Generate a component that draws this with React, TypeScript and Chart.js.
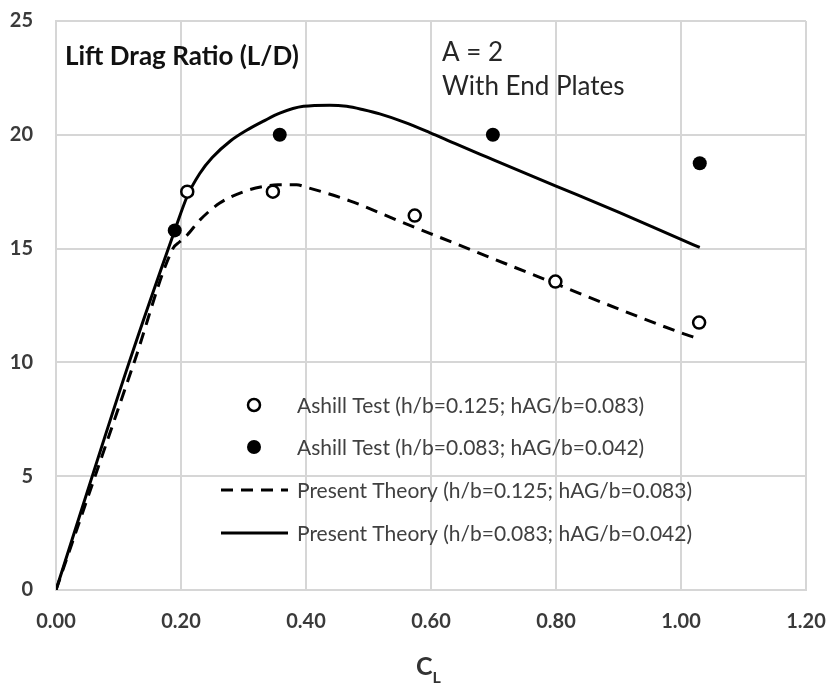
import { useEffect, useRef } from 'react';
import { Chart, registerables } from 'chart.js';

Chart.register(...registerables);

// Ashill wind-tunnel test points (C_L, L/D)
const testOpenCL = [0.21, 0.347, 0.574, 0.799, 1.029];
const testOpenLD = [17.5, 17.5, 16.45, 13.55, 11.75];
const testFilledCL = [0.19, 0.358, 0.699, 1.03];
const testFilledLD = [15.8, 20.0, 20.0, 18.75];

// Present theory curves
const theoryDashCL = [0, 0.125, 0.187, 0.198, 0.21, 0.23, 0.262, 0.3, 0.33, 0.355, 0.385, 0.4, 0.47, 0.55, 0.6, 0.7, 0.8, 0.9, 1.0, 1.027];
const theoryDashLD = [0, 10, 15, 15.3, 15.6, 16.25, 17.0, 17.5, 17.72, 17.8, 17.8, 17.7, 17.1, 16.2, 15.65, 14.55, 13.45, 12.35, 11.3, 11.05];
const theorySolidCL = [0, 0.117, 0.19, 0.21, 0.23, 0.25, 0.28, 0.305, 0.332, 0.358, 0.396, 0.438, 0.465, 0.492, 0.518, 0.558, 0.598, 0.638, 0.678, 0.7, 0.8, 0.9, 1.0, 1.03];
const theorySolidLD = [0, 10, 15.8, 17.3, 18.3, 19.0, 19.75, 20.2, 20.6, 20.95, 21.25, 21.3, 21.25, 21.1, 20.92, 20.55, 20.1, 19.62, 19.15, 18.9, 17.75, 16.6, 15.4, 15.05];

const seriesLabels = [
  'Ashill Test (h/b=0.125; hAG/b=0.083)',
  'Ashill Test (h/b=0.083; hAG/b=0.042)',
  'Present Theory (h/b=0.125; hAG/b=0.083)',
  'Present Theory (h/b=0.083; hAG/b=0.042)',
];

const xTickValues = [0, 0.2, 0.4, 0.6, 0.8, 1.0, 1.2];
const xTickLabels = ['0.00', '0.20', '0.40', '0.60', '0.80', '1.00', '1.20'];
const yTickValues = [0, 5, 10, 15, 20, 25];
const yTickLabels = ['0', '5', '10', '15', '20', '25'];

const chartTitle = 'Lift Drag Ratio (L/D)';
const noteLines = ['A = 2', 'With End Plates'];
const xTitleMain = 'C';
const xTitleSub = 'L';

const FONT = 'Lato, "Open Sans", sans-serif';
const GRID = '#d6d6d6';

const pts = (xs: number[], ys: number[]) => xs.map((x, i) => ({ x, y: ys[i] }));

const labelFor = (values: number[], labels: string[], v: number) => {
  const i = values.findIndex((t) => Math.abs(t - v) < 1e-6);
  return i >= 0 ? labels[i] : '';
};

// Tick labels may hang past the plot box; keep the box where the layout padding puts it.
const noOverflow = (scale: any) => {
  scale.paddingTop = 0;
  scale.paddingBottom = 0;
  scale.paddingLeft = 0;
  scale.paddingRight = 0;
};

// Draws the in-plot legend, the heading notes and the C_L axis title.
const overlayPlugin = {
  id: 'overlay',
  afterDraw(chart: any) {
    const ctx = chart.ctx as CanvasRenderingContext2D;
    ctx.save();

    // heading notes
    ctx.textBaseline = 'alphabetic';
    ctx.textAlign = 'left';
    ctx.fillStyle = '#111';
    ctx.font = `bold 26px ${FONT}`;
    ctx.fillText(chartTitle, 65, 65);

    ctx.fillStyle = '#262626';
    ctx.font = `26px ${FONT}`;
    ctx.fillText(noteLines[0], 442, 61);
    ctx.fillText(noteLines[1], 442, 95);

    // legend
    const rows = [405, 447, 490, 533];
    const markX = 254;
    const lineX0 = 221;
    const lineX1 = 288;
    const textX = 297;
    ctx.font = `21px ${FONT}`;
    ctx.textBaseline = 'middle';
    chart.data.datasets.forEach((ds: any, i: number) => {
      const y = rows[i];
      ctx.strokeStyle = '#000';
      ctx.fillStyle = '#000';
      if (ds.showLine) {
        ctx.lineWidth = 3;
        ctx.setLineDash(ds.borderDash || []);
        ctx.beginPath();
        ctx.moveTo(lineX0, y);
        ctx.lineTo(lineX1, y);
        ctx.stroke();
        ctx.setLineDash([]);
      } else {
        ctx.beginPath();
        ctx.arc(markX, y, ds.pointRadius, 0, Math.PI * 2);
        ctx.fillStyle = ds.pointBackgroundColor;
        ctx.fill();
        if (ds.pointBorderWidth > 0) {
          ctx.lineWidth = ds.pointBorderWidth;
          ctx.strokeStyle = ds.pointBorderColor;
          ctx.stroke();
        }
      }
      ctx.fillStyle = '#404040';
      ctx.fillText(ds.label, textX, y + 1);
    });

    // x axis title with subscript
    ctx.fillStyle = '#333';
    ctx.textBaseline = 'alphabetic';
    ctx.font = `bold 25px ${FONT}`;
    const wMain = ctx.measureText(xTitleMain).width;
    ctx.fillText(xTitleMain, 416, 675);
    ctx.font = `bold 16px ${FONT}`;
    ctx.fillText(xTitleSub, 416 + wMain, 683);

    ctx.restore();
  },
};

export default function App() {
  const canvasRef = useRef<HTMLCanvasElement | null>(null);

  useEffect(() => {
    const canvas = canvasRef.current;
    if (!canvas) return;
    const chart = new Chart(canvas, {
      type: 'scatter',
      data: {
        datasets: [
          {
            label: seriesLabels[0],
            data: pts(testOpenCL, testOpenLD),
            showLine: false,
            pointRadius: 6,
            pointBorderWidth: 2.5,
            pointBackgroundColor: '#ffffff',
            pointBorderColor: '#000000',
          },
          {
            label: seriesLabels[1],
            data: pts(testFilledCL, testFilledLD),
            showLine: false,
            pointRadius: 7,
            pointBorderWidth: 0,
            pointBackgroundColor: '#000000',
            pointBorderColor: '#000000',
          },
          {
            label: seriesLabels[2],
            data: pts(theoryDashCL, theoryDashLD),
            showLine: true,
            borderColor: '#000000',
            borderWidth: 3,
            borderDash: [12, 8],
            pointRadius: 0,
            cubicInterpolationMode: 'monotone',
          },
          {
            label: seriesLabels[3],
            data: pts(theorySolidCL, theorySolidLD),
            showLine: true,
            borderColor: '#000000',
            borderWidth: 3,
            pointRadius: 0,
            cubicInterpolationMode: 'monotone',
          },
        ] as any,
      },
      options: {
        responsive: false,
        animation: false,
        layout: { padding: { left: 0, top: 21, right: 23, bottom: 0 } },
        plugins: {
          legend: { display: false },
          tooltip: { enabled: false },
        },
        scales: {
          x: {
            type: 'linear',
            min: 0,
            max: 1.2,
            afterBuildTicks: (scale: any) => {
              scale.ticks = xTickValues.map((value) => ({ value }));
            },
            afterFit: (scale: any) => {
              scale.height = 684 - 590;
              noOverflow(scale);
            },
            grid: { color: GRID, lineWidth: 2, drawTicks: false },
            border: { color: GRID, width: 2 },
            ticks: {
              padding: 20,
              color: '#3a3a3a',
              font: { family: FONT, size: 20, weight: 'bold' },
              callback: (v: any) => labelFor(xTickValues, xTickLabels, Number(v)),
            },
          },
          y: {
            type: 'linear',
            min: 0,
            max: 25,
            afterBuildTicks: (scale: any) => {
              scale.ticks = yTickValues.map((value) => ({ value }));
            },
            afterFit: (scale: any) => {
              scale.width = 56;
              noOverflow(scale);
            },
            grid: { color: GRID, lineWidth: 2, drawTicks: false },
            border: { color: GRID, width: 2 },
            ticks: {
              padding: 23,
              color: '#3a3a3a',
              font: { family: FONT, size: 20, weight: 'bold' },
              callback: (v: any) => labelFor(yTickValues, yTickLabels, Number(v)),
            },
          },
        },
      } as any,
      plugins: [overlayPlugin],
    });
    return () => chart.destroy();
  }, []);

  return (
    <div style={{ position: 'absolute', left: 0, top: 0, width: 829, height: 684, background: '#fff' }}>
      <canvas ref={canvasRef} width={829} height={684} />
    </div>
  );
}
